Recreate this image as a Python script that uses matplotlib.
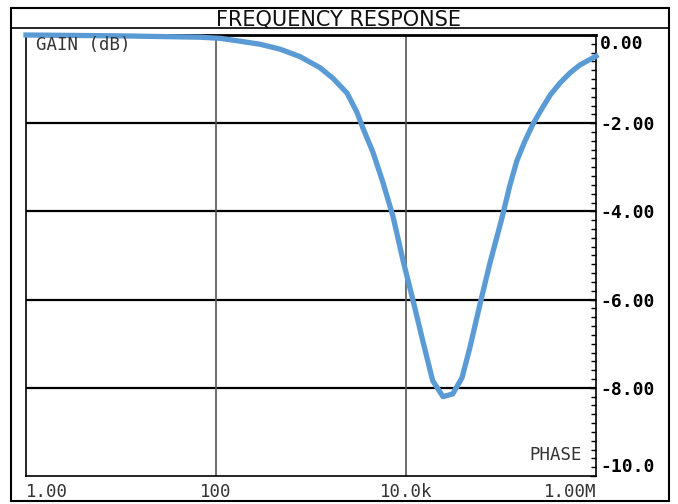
import matplotlib.pyplot as plt
from matplotlib.ticker import MultipleLocator, NullLocator
from matplotlib.lines import Line2D
from matplotlib.patches import Rectangle

# frequency (Hz) and gain (dB)
freq = [1, 10, 68, 110, 179, 291, 471, 766, 1240, 1700, 2400, 3040, 3520,
        4490, 5710, 7290, 9300, 11800, 15000, 19100, 24500, 31000, 38900,
        47000, 61700, 76300, 102000, 124000, 147000, 179000, 217000,
        271000, 330000, 417000, 532000, 676000, 1000000]
gain = [0.0, -0.02, -0.05, -0.075, -0.14, -0.21, -0.32, -0.49, -0.74, -0.98,
        -1.32, -1.75, -2.11, -2.66, -3.34, -4.11, -5.11, -6.0, -6.93, -7.84,
        -8.2, -8.14, -7.77, -7.09, -6.0, -5.18, -4.16, -3.41, -2.85, -2.4,
        -2.02, -1.66, -1.36, -1.09, -0.86, -0.68, -0.48]

x_ticks = [1, 100, 1e4, 1e6]
x_labels = ['1.00', '100', '10.0k', '1.00M']
y_ticks = [0, -2, -4, -6, -8, -10]
y_labels = ['0.00', '-2.00', '-4.00', '-6.00', '-8.00', '-10.0']

mono = 'DejaVu Sans Mono'
W, H = 678, 504

fig = plt.figure(figsize=(6.78, 5.04), dpi=100)
ax = fig.add_axes([26 / W, 1 - 476 / H, 570 / W, 441 / H])

# outer frame and title bar
fig.patches.append(Rectangle((11 / W, 3 / H), 658 / W, 493 / H, fill=False,
                             edgecolor='black', lw=1.5, transform=fig.transFigure))
fig.lines.append(Line2D([11 / W, 669 / W], [1 - 28 / H, 1 - 28 / H],
                        color='black', lw=1.2, transform=fig.transFigure))
fig.text(338 / W, 1 - 25 / H, 'FREQUENCY RESPONSE', ha='center', va='baseline',
         fontsize=15, family='DejaVu Sans', color='#111111')

ax.plot(freq, gain, color='#5b9bd5', lw=3.8, zorder=3, clip_on=False,
        solid_joinstyle='round')

ax.set_xscale('log')
ax.set_xlim(1, 1e6)
ax.set_ylim(-10, 0)

# grid: black horizontals, grey verticals
for v in y_ticks[1:-1]:
    ax.axhline(v, color='black', lw=1.6, zorder=1)
for f in [100, 1e4]:
    ax.axvline(f, color='#555555', lw=1.2, zorder=1)

ax.set_xticks(x_ticks)
ax.set_xticklabels(x_labels, family=mono, fontsize=12.5, color='#333333')
ax.xaxis.set_minor_locator(NullLocator())
ax.tick_params(axis='x', length=0, pad=5)
xl = ax.get_xticklabels()
xl[0].set_ha('left')
xl[-1].set_ha('right')

ax.yaxis.tick_right()
ax.set_yticks(y_ticks)
ax.set_yticklabels(y_labels, family=mono, fontsize=13, fontweight='bold')
ax.yaxis.set_minor_locator(MultipleLocator(0.2))
ax.tick_params(axis='y', which='major', direction='in', length=4, width=1, pad=3)
ax.tick_params(axis='y', which='minor', direction='in', length=3.5, width=1)
yl = ax.get_yticklabels()
yl[0].set_va('top')
yl[-1].set_va('bottom')

for s in ['left', 'right', 'bottom']:
    ax.spines[s].set_linewidth(1.2)
ax.spines['top'].set_linewidth(2)

ax.text(10 / 570, 1 - 10 / 441, 'GAIN (dB)', transform=ax.transAxes,
        ha='left', va='center', family=mono, fontsize=12.5, color='#333333')
ax.text(556 / 570, 21 / 441, 'PHASE', transform=ax.transAxes,
        ha='right', va='center', family=mono, fontsize=12.5, color='#333333')

fig.savefig('out.png', dpi=100)
